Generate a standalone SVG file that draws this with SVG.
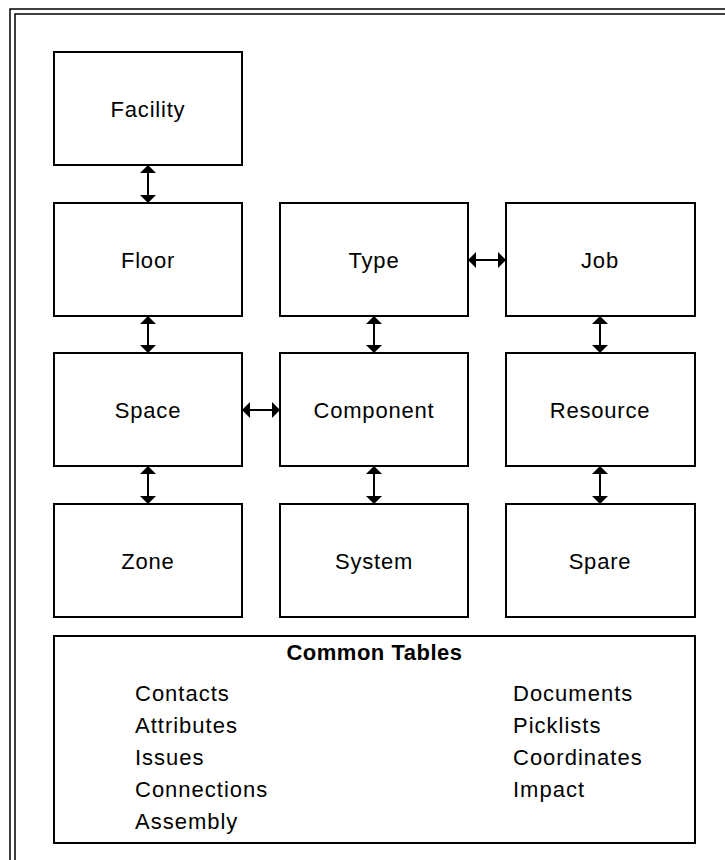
<svg xmlns="http://www.w3.org/2000/svg" width="725" height="860" viewBox="0 0 725 860">
<style>
.box{fill:#fff;stroke:#000;stroke-width:2}
.lbl{font-family:"Liberation Sans",Arial,sans-serif;font-size:22px;letter-spacing:0.8px;fill:#000;text-anchor:middle}
.item{font-family:"Liberation Sans",Arial,sans-serif;font-size:22px;letter-spacing:1px;fill:#000}
.ttl{font-family:"Liberation Sans",Arial,sans-serif;font-size:22px;font-weight:bold;letter-spacing:0.5px;fill:#000;text-anchor:middle}
.con{stroke:#000;stroke-width:2;fill:none;marker-start:url(#ah);marker-end:url(#ah)}
.frame{fill:none;stroke:#000;stroke-width:1.5}
</style>
<defs>
<marker id="ah" viewBox="0 0 8 16" refX="4" refY="8" markerWidth="8" markerHeight="16" markerUnits="userSpaceOnUse" orient="auto-start-reverse">
<path d="M0,0 L8,8 L0,16 Z" fill="#000"/>
</marker>
</defs>
<rect width="725" height="860" fill="#fff"/>
<rect class="frame" x="10" y="9" width="740" height="880"/>
<rect class="frame" x="15" y="14" width="730" height="870"/>

<g id="facility"><rect class="box" x="54" y="52" width="188" height="113"/><text class="lbl" x="148" y="116.5">Facility</text></g>
<g id="floor"><rect class="box" x="54" y="203" width="188" height="113"/><text class="lbl" x="148" y="267.5">Floor</text></g>
<g id="type"><rect class="box" x="280" y="203" width="188" height="113"/><text class="lbl" x="374" y="267.5">Type</text></g>
<g id="job"><rect class="box" x="506" y="203" width="189" height="113"/><text class="lbl" x="600" y="267.5">Job</text></g>
<g id="space"><rect class="box" x="54" y="353" width="188" height="113"/><text class="lbl" x="148" y="417.5">Space</text></g>
<g id="component"><rect class="box" x="280" y="353" width="188" height="113"/><text class="lbl" x="374" y="417.5">Component</text></g>
<g id="resource"><rect class="box" x="506" y="353" width="189" height="113"/><text class="lbl" x="600" y="417.5">Resource</text></g>
<g id="zone"><rect class="box" x="54" y="504" width="188" height="113"/><text class="lbl" x="148" y="568.5">Zone</text></g>
<g id="system"><rect class="box" x="280" y="504" width="188" height="113"/><text class="lbl" x="374" y="568.5">System</text></g>
<g id="spare"><rect class="box" x="506" y="504" width="189" height="113"/><text class="lbl" x="600" y="568.5">Spare</text></g>

<g id="common-tables">
<rect class="box" x="54" y="636" width="641" height="207"/>
<text class="ttl" x="374.5" y="660">Common Tables</text>
<text class="item" x="135" y="701">Contacts</text>
<text class="item" x="135" y="733">Attributes</text>
<text class="item" x="135" y="765">Issues</text>
<text class="item" x="135" y="797">Connections</text>
<text class="item" x="135" y="829">Assembly</text>
<text class="item" x="513" y="701">Documents</text>
<text class="item" x="513" y="733">Picklists</text>
<text class="item" x="513" y="765">Coordinates</text>
<text class="item" x="513" y="797">Impact</text>
</g>

<g id="connectors">
<line class="con" x1="148" y1="169" x2="148" y2="199"/>
<line class="con" x1="148" y1="320" x2="148" y2="349"/>
<line class="con" x1="148" y1="470" x2="148" y2="500"/>
<line class="con" x1="374" y1="320" x2="374" y2="349"/>
<line class="con" x1="374" y1="470" x2="374" y2="500"/>
<line class="con" x1="600" y1="320" x2="600" y2="349"/>
<line class="con" x1="600" y1="470" x2="600" y2="500"/>
<line class="con" x1="472" y1="260" x2="502" y2="260"/>
<line class="con" x1="246" y1="410" x2="276" y2="410"/>
</g>
</svg>
